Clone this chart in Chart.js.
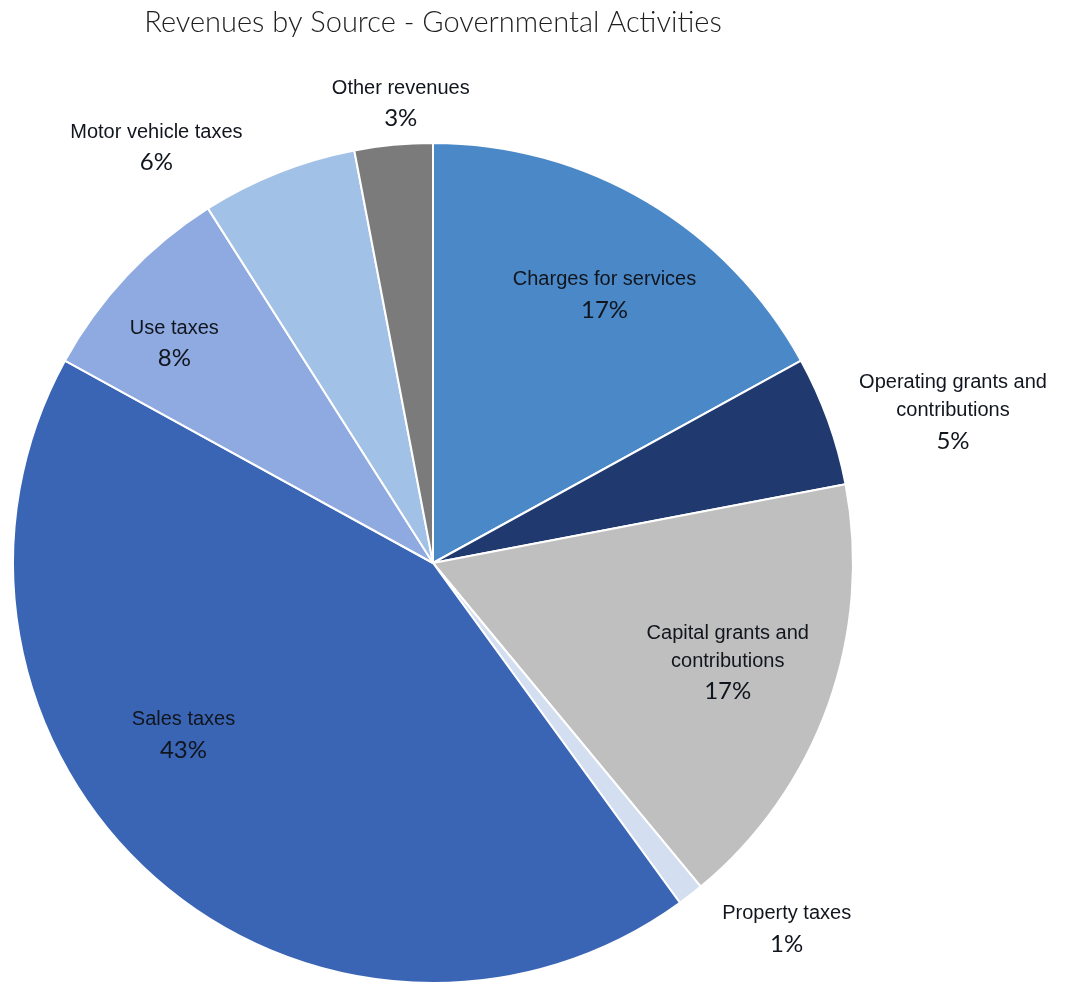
<!DOCTYPE html>
<html>
<head>
<meta charset="utf-8">
<title>Revenues by Source</title>
<script src="https://cdn.jsdelivr.net/npm/chart.js@4"></script>
<style>
  html, body { margin: 0; padding: 0; background: #fff; }
  #wrap { width: 1092px; height: 987px; position: relative; }
</style>
</head>
<body>
<div id="wrap"><canvas id="revenueChart"></canvas></div>
<script>
const chartTitle = 'Revenues by Source - Governmental Activities';

// slices clockwise from 12 o'clock
const sources = [
  'Charges for services',
  'Operating grants and contributions',
  'Capital grants and contributions',
  'Property taxes',
  'Sales taxes',
  'Use taxes',
  'Motor vehicle taxes',
  'Other revenues'
];
const shares = [17, 5, 17, 1, 43, 8, 6, 3];
const sliceColors = ['#4a88c8', '#203a70', '#bfbfbf', '#d3dff0', '#3a65b5', '#8eaae0', '#a2c1e7', '#7b7b7b'];

// how each label is broken into lines
const labelLines = [
  ['Charges for services'],
  ['Operating grants and', 'contributions'],
  ['Capital grants and', 'contributions'],
  ['Property taxes'],
  ['Sales taxes'],
  ['Use taxes'],
  ['Motor vehicle taxes'],
  ['Other revenues']
];
// label anchor: angle (deg clockwise from top) and distance as fraction of radius
const labelAngle = [32.5, 73.7, 108.5, 135.9, 235.6, 310.5, 326.4, 356];
const labelDist = [0.76, 1.29, 0.74, 1.21, 0.72, 0.81, 1.19, 1.10];

const pieLabels = {
  id: 'pieLabels',
  afterDraw(chart) {
    const ctx = chart.ctx;
    const arc = chart.getDatasetMeta(0).data[0];
    const cx = arc.x, cy = arc.y, r = arc.outerRadius;

    // title centred over the pie
    ctx.save();
    ctx.fillStyle = '#1e1e1e';
    ctx.font = '300 29px Lato';
    ctx.textAlign = 'center';
    ctx.textBaseline = 'middle';
    ctx.fillText(chartTitle, cx, 23);

    const lineH = 28;
    shares.forEach((v, i) => {
      const a = labelAngle[i] * Math.PI / 180;
      const x = cx + Math.sin(a) * r * labelDist[i];
      const y = cy - Math.cos(a) * r * labelDist[i];
      const lines = labelLines[i];
      const total = lines.length + 1;
      let top = y - (total - 1) * lineH / 2;
      ctx.fillStyle = '#11151d';
      ctx.font = '20px "Liberation Sans"';
      lines.forEach((t, k) => ctx.fillText(t, x, top + k * lineH));
      ctx.font = '24px Lato';
      ctx.fillText(v + '%', x, top + lines.length * lineH + 2);
    });
    ctx.restore();
  }
};

new Chart(document.getElementById('revenueChart'), {
  type: 'pie',
  data: {
    labels: sources,
    datasets: [{
      data: shares,
      backgroundColor: sliceColors,
      borderColor: '#ffffff',
      borderWidth: 2
    }]
  },
  options: {
    responsive: true,
    maintainAspectRatio: false,
    animation: false,
    layout: { padding: { top: 142, bottom: 3, left: 12, right: 238 } },
    plugins: {
      legend: { display: false },
      tooltip: { enabled: false }
    }
  },
  plugins: [pieLabels]
});
</script>
</body>
</html>
